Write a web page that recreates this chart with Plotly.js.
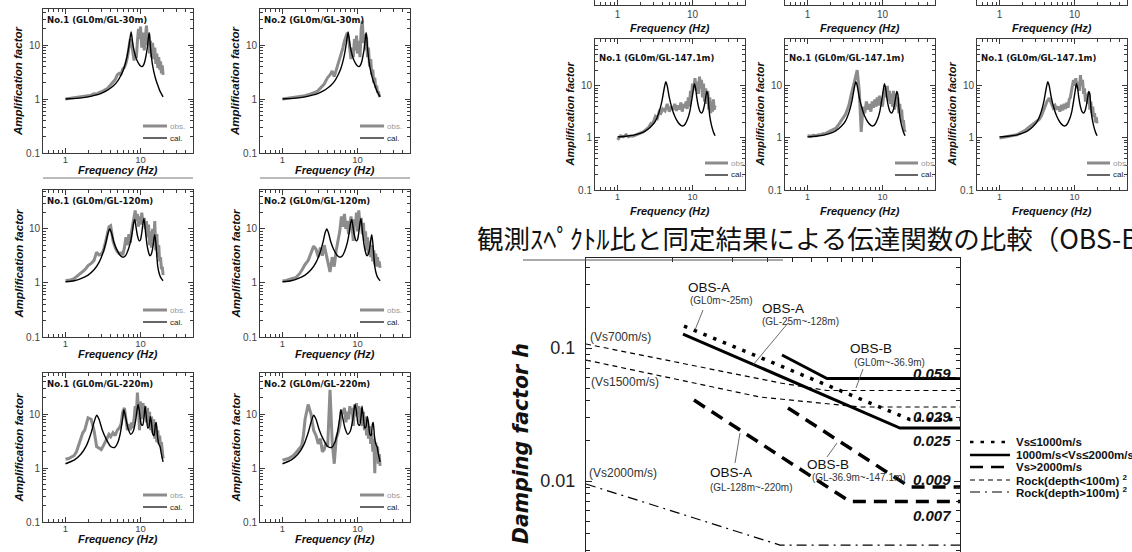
<!DOCTYPE html>
<html><head><meta charset="utf-8">
<script src="https://cdn.plot.ly/plotly-3.0.1.min.js"></script>
<style>html,body{margin:0;padding:0;background:#fff}#chart{width:1132px;height:552px}</style>
</head><body><div id="chart"></div>
<script>
// ---------- DATA ----------
// observed spectral ratios share one frequency grid (Hz)
const fObs = [1,1.1,1.2,1.3,1.4,1.5,1.6,1.7,1.8,1.9,
  2.0,2.2,2.4,2.6,2.8,3.0,3.2,3.4,3.6,3.8,
  4.0,4.3,4.6,4.9,5.2,5.5,5.8,6.1,6.4,6.7,7.0,
  7.3,7.6,7.9,8.2,8.5,8.8,9.1,9.4,9.7,
  10,10.4,10.8,11.2,11.6,12,12.4,12.8,13.2,13.6,
  14,14.5,15,15.5,16,16.5,17,17.5,18,18.5,19,19.5,20];

const obsL1 = [1.0,1.02,1.03,1.05,1.06,1.08,1.07,1.1,1.12,1.13,
  1.15,1.18,1.25,1.24,1.32,1.36,1.42,1.5,1.55,1.7,
  1.85,2.1,2.3,2.8,3.0,2.9,3.6,3.9,4.6,6.0,9.5,
  13,11,6.5,5.2,7.5,5.8,12,20,13,
  22,9,17,8,14,23,10,16,7,12,
  6,11,5.5,9,4.5,7,3.8,6,3.5,5,3,4.2,2.8];
const obsL2 = [1.0,1.02,1.02,1.04,1.05,1.06,1.08,1.1,1.12,1.14,
  1.15,1.2,1.25,1.3,1.35,1.45,1.6,1.75,1.9,2.2,
  2.5,2.8,3.3,2.6,3.4,4.5,5.5,7.5,9,12,15,
  17,13,7,5.5,9,6,13,8,15,
  7,12,6,20,28,11,16,8,14,6,
  9,4,5.5,2.8,3.5,2,2.5,1.6,1.8,1.3,1.4,1.15,1.1];
const obsL3 = [1.1,1.12,1.15,1.2,1.3,1.4,1.5,1.6,1.75,1.9,
  2.1,2.3,2.6,3.7,3.3,3.4,4,5.5,7.5,11,
  11.5,6,4.5,3.8,3.5,3.6,3.3,4.5,7,5,8,
  5.5,9,12,18,22,14,19,11,17,
  12,20,13,16,10,14,7,12,5,9,
  4.5,10,5,14,4,8,3,5,2.5,3,1.8,2,1.4];
const obsL4 = [1.1,1.1,1.15,1.2,1.22,1.25,1.35,1.5,1.7,2.0,
  2.2,2.6,3.5,4.8,4.2,3,4.5,3.2,5,3.5,
  2.5,1.6,3,2,4,6,9,17,11,19,10,
  14,8,12,17,10,6,15,12,20,
  9,22,12,16,8,13,6,9,4,7,
  3.5,6,3,5,2.5,4,2.2,3.5,2,3,2,2.5,1.9];
const obsL5 = [1.45,1.5,1.6,1.7,2.0,2.6,3.6,4.5,5,6.5,
  8.5,8,5,2.5,2.3,2.2,2.6,3,3.6,4.2,
  3.8,4.5,4,5,5.5,6.5,11,13,7,5,6.5,
  5,7,5.5,8,14,10,25,12,5,
  17,8,16,9,14,7,13,6,11,5,
  9,4.5,8,3.5,6,3,5,2.8,4,2.5,3,2,1.5];
const obsL6 = [1.4,1.45,1.5,1.6,1.7,1.9,2.1,2.4,2.6,4,
  8,15,10,5,4,2.8,3.5,2,2.2,3,
  2.5,28,3,1.2,3.5,4.5,6,12,10,13,7,
  11,8,14,10,13,6,15,9,16,
  10,14,7,13,6,11,5,9,4,7,
  3.5,6,2.8,4.5,2,3.5,0.8,3,1.5,2.5,1.2,1.8,1.1];
const obsR1 = [0.92,1.1,1.05,1.15,1.05,1.1,1.08,1.12,1.15,1.2,
  1.25,1.3,1.45,1.6,1.9,2.0,2.6,2.4,3.2,3,
  3.6,3.3,4.5,3.2,4,3.5,4.5,3.3,4.2,3.5,4.8,
  3.2,4.5,3.8,5,3.6,6,4,8,6,
  11,9,14,8,12,7,15,9,13,6,
  11,5,9,4.5,8,3.5,6,3,5,3.2,5.5,3.5,4.2];
const obsR2 = [1.1,1.08,1.12,1.1,1.15,1.15,1.2,1.2,1.25,1.3,
  1.35,1.5,1.55,1.8,2.1,2.5,2.8,3.5,4.5,6.5,
  9,14,20,8,1.3,4,3,5,3.5,4.5,3.2,
  5,3.8,5.5,4,6,4.2,6.5,4.5,5.5,
  4,7,9,6,10,5,8,4.5,7,4,
  8,3.5,7,4,6,3,4.5,2.5,3.5,2,2.2,1.5,1.3];
const obsR3 = [1.0,1.02,1.05,1.06,1.08,1.1,1.12,1.15,1.2,1.25,
  1.3,1.4,1.55,1.7,1.85,2.0,2.1,2.3,2.6,3.2,
  3.8,5,5.8,4.5,3.8,4.2,3.5,4,3.2,4.3,3.4,
  4.5,3.6,4.8,3.8,5.5,6,8,11,13,
  10,14,9,12,8,16,10,13,7,9,
  5,7,4.5,7.5,3.5,5,3,4,2.5,3,2,2.5,1.9];

// calculated transfer functions
const fCal30 = [1,1.5,2,2.5,3,3.5,4,4.5,5,5.5,6,6.5,7,7.25,7.5,7.75,8,8.5,9,9.5,10,10.5,11,11.5,12,12.5,13,13.25,13.5,14,14.5,15,16,17,18,19,20];
const cal30  = [1.0,1.04,1.1,1.18,1.28,1.42,1.6,1.85,2.2,2.8,3.7,5.5,9.5,13.5,17.5,13,9.5,6.5,5.2,4.5,4.1,4.0,4.3,5.2,7,10.5,17,15,10,6,4.2,3.3,2.3,1.8,1.45,1.25,1.1];
const fCal120 = [1,1.3,1.6,2,2.4,2.8,3.2,3.5,3.7,3.9,4.1,4.4,4.8,5.3,5.8,6.3,6.8,7.3,7.8,8.1,8.4,8.7,9.1,9.6,10,10.4,10.8,11.1,11.4,11.8,12.3,12.8,13.3,13.8,14.3,14.8,15.2,15.5,16,16.5,17,18,19,20];
const cal120  = [1.05,1.1,1.2,1.4,1.75,2.4,3.8,6,8.5,10,8.5,5.8,4.2,3.3,3.0,3.2,4,5.5,9,13,15,11,7.5,6,6.3,8.5,13,15.5,12,7.5,4.8,3.7,3.2,3.3,3.9,5.2,7,7.8,5.5,3.2,2,1.4,1.2,1.1];
const fCal220 = [1,1.3,1.6,1.9,2.2,2.4,2.6,2.8,3.1,3.5,4,4.5,5,5.4,5.8,6,6.3,6.8,7.4,8,8.6,9,9.3,9.7,10.2,10.7,11.2,11.5,11.9,12.5,13,13.5,14,14.6,15.2,15.8,16.2,16.8,17.5,18.2,19,20];
const cal220  = [1.2,1.4,1.8,2.6,4.5,7,9.5,8,5,3.4,2.5,2.4,3,4.5,8.5,12,9,5.5,4.2,4.8,7.5,12,15,11,6.5,6.2,9.5,14,9.5,5.5,5.8,9,7,4.2,4,6.5,7,4,2.8,2.5,1.8,1.3];
const fCal147 = [1,1.3,1.6,2,2.4,2.8,3.2,3.6,3.9,4.2,4.4,4.6,4.9,5.3,5.8,6.4,7,7.5,8,8.6,9.2,9.8,10.2,10.6,11,11.4,12,12.6,13.2,13.8,14.4,15,15.5,16,16.5,17,18,19,20];
const cal147  = [1.05,1.08,1.12,1.22,1.38,1.65,2.1,3.2,5,9,12,10,6,3.8,2.6,2,1.75,1.7,1.85,2.3,3.2,5.5,8,11,9,6,4,3.2,3,3.3,4.2,6,7.8,7,4,2.6,1.7,1.3,1.1];

const panelTitles = ['No.1 (GL0m/GL-30m)','No.2 (GL0m/GL-30m)','No.1 (GL0m/GL-120m)','No.2 (GL0m/GL-120m)',
  'No.1 (GL0m/GL-220m)','No.2 (GL0m/GL-220m)','No.1 (GL0m/GL-147.1m)','No.1 (GL0m/GL-147.1m)','No.1 (GL0m/GL-147.1m)'];
const ampTicks = [0.1,1,10];
const ampTickText = ['0.1','1','10'];
const freqTicks = [1,10];
const freqTickText = ['1','10'];

// damping factor vs frequency (Hz)
const dampF_A1 = [1.148,15.49,27.54];  const dampH_A1 = [0.1463,0.029,0.029];   // OBS-A GL0~-25m, Vs<=1000
const dampF_A2 = [1.135,13.80,27.54];  const dampH_A2 = [0.1274,0.025,0.025];   // OBS-A GL-25~-128m
const dampF_B1 = [3.548,5.957,27.54];  const dampH_B1 = [0.0886,0.059,0.059];   // OBS-B GL0~-36.9m
const dampF_A3 = [1.288,7.762,27.54];  const dampH_A3 = [0.0406,0.007,0.007];   // OBS-A GL-128~-220m, Vs>2000
const dampF_B2 = [3.802,15.49,27.54];  const dampH_B2 = [0.0354,0.009,0.009];   // OBS-B GL-36.9~-147.1m
const dampF_R700 = [0.3715,1.380,3.467,5.957,27.54]; const dampH_R700 = [0.1072,0.0720,0.0546,0.0479,0.0479];
const dampF_R1500 = [0.3715,2.754,8.710,27.54];      const dampH_R1500 = [0.0812,0.0428,0.0360,0.0360];
const dampF_R2000 = [0.3715,3.467,27.54];            const dampH_R2000 = [0.0095,0.0033,0.0033];
const dampValueLabels = ['0.059','0.029','0.025','0.009','0.007'];
const legendNames = ['Vs≤1000m/s','1000m/s&lt;Vs≤2000m/s','Vs&gt;2000m/s','Rock(depth&lt;100m) <sup>2</sup>','Rock(depth&gt;100m) <sup>2</sup>'];
const caption = '観測ｽﾍﾟｸﾄﾙ比と同定結果による伝達関数の比較（OBS-B）';

// ---------- LAYOUT ----------
const W = 1132, H = 552;
const FONT = 'Liberation Sans, Arial, Helvetica, sans-serif';
const NARROW = 'Liberation Sans Narrow, Arial Narrow, DejaVu Sans Condensed, sans-serif';
const WIDE = 'DejaVu Sans, Verdana, sans-serif';
const AX = '#3a3a3a';
const OBS_C = '#8c8c8c';

const layout = {width:W, height:H, margin:{l:0,r:0,t:0,b:0}, paper_bgcolor:'#fff',
  plot_bgcolor:'rgba(0,0,0,0)', showlegend:false, font:{family:FONT,color:'#222'},
  annotations:[], shapes:[]};
const data = [];

function txt(x,y,text,o){ layout.annotations.push(Object.assign({xref:'paper',yref:'paper',x:x/W,y:1-y/H,text:text,
  showarrow:false,xanchor:'center',yanchor:'middle',font:{family:FONT,size:10,color:'#222'}},o||{})); }
function seg(x0,y0,x1,y1,line){ layout.shapes.push({type:'line',xref:'paper',yref:'paper',
  x0:x0/W,y0:1-y0/H,x1:x1/W,y1:1-y1/H,line:line}); }

const minorX = [0.6,0.7,0.8,0.9,2,3,4,5,6,7,8,9,20,30,40];
const minorY = [0.2,0.3,0.4,0.5,0.6,0.7,0.8,0.9,2,3,4,5,6,7,8,9,20,30,40,50,60];

function xAxis(x0,x1,anchor,extra){
  return Object.assign({type:'log',range:[-0.3,1.7],domain:[x0/W,x1/W],anchor:anchor,
    tickmode:'array',tickvals:freqTicks,ticktext:freqTickText,ticks:'inside',ticklen:5,tickwidth:1,tickcolor:AX,
    showline:true,linecolor:AX,linewidth:1,mirror:'allticks',showgrid:false,zeroline:false,
    tickfont:{family:FONT,size:9.5,color:'#444'},ticklabelstandoff:-2,
    minor:{tickmode:'array',tickvals:minorX,ticks:'inside',ticklen:3,tickwidth:1,tickcolor:AX,showgrid:false},
    fixedrange:true},extra||{});
}
function yAxis(top,bot,range,anchor,extra){
  return Object.assign({type:'log',range:range,domain:[1-bot/H,1-top/H],anchor:anchor,
    tickmode:'array',tickvals:ampTicks,ticktext:ampTickText,ticks:'inside',ticklen:5,tickwidth:1,tickcolor:AX,
    showline:true,linecolor:AX,linewidth:1,mirror:'allticks',showgrid:false,zeroline:false,
    tickfont:{family:FONT,size:10,color:'#444'},
    minor:{tickmode:'array',tickvals:minorY,ticks:'inside',ticklen:3,tickwidth:1,tickcolor:AX,showgrid:false},
    fixedrange:true},extra||{});
}

// panel boxes [left,right,top,bottom] in pixels, y-range, obs, cal
const panels = [
  {b:[43,193,9,153],   r:[-1,1.67], obs:obsL1, fc:fCal30,  c:cal30,  kind:'L'},
  {b:[260,410,9,153],  r:[-1,1.67], obs:obsL2, fc:fCal30,  c:cal30,  kind:'L'},
  {b:[43,193,190,337], r:[-1,1.72], obs:obsL3, fc:fCal120, c:cal120, kind:'L'},
  {b:[260,410,190,337],r:[-1,1.72], obs:obsL4, fc:fCal120, c:cal120, kind:'L'},
  {b:[43,193,373,522], r:[-1,1.76], obs:obsL5, fc:fCal220, c:cal220, kind:'L'},
  {b:[260,410,373,522],r:[-1,1.76], obs:obsL6, fc:fCal220, c:cal220, kind:'L'},
  {b:[595,745,39,190], r:[-1,1.9],  obs:obsR1, fc:fCal147, c:cal147, kind:'R'},
  {b:[785,935,39,190], r:[-1,1.9],  obs:obsR2, fc:fCal147, c:cal147, kind:'R'},
  {b:[977,1127,39,190],r:[-1,1.9],  obs:obsR3, fc:fCal147, c:cal147, kind:'R'}
];

panels.forEach((p,i)=>{
  const n = i+1, xs = n===1?'':String(n);
  const [l,r,t,bt] = p.b;
  const isR = p.kind==='R';
  layout['xaxis'+xs] = xAxis(l,r,'y'+xs, isR?{tickfont:{family:FONT,size:9,color:'#444'}}:{});
  layout['yaxis'+xs] = yAxis(t,bt,p.r,'x'+xs);
  data.push({x:fObs,y:p.obs,xaxis:'x'+xs,yaxis:'y'+xs,mode:'lines',line:{color:OBS_C,width:3},hoverinfo:'skip'});
  data.push({x:p.fc,y:p.c,xaxis:'x'+xs,yaxis:'y'+xs,mode:'lines',line:{color:'#000',width:1.4,shape:'spline',smoothing:0.6},hoverinfo:'skip'});
  txt(l+2, t+(isR?18:10), '<b>'+panelTitles[i]+'</b>', {xanchor:'left',font:{family:NARROW,size:9.5,color:'#111'}});
  txt(l-25, (t+bt)/2, '<b><i>Amplification factor</i></b>', {textangle:-90,font:{family:FONT,size:isR?11:11.5,color:'#111'}});
  txt((l+r)/2, bt+(isR?21:17), '<b><i>Frequency (Hz)</i></b>', {font:{family:FONT,size:11,color:'#111'}});
  // mini legend
  const s0 = isR? r-40 : r-50, s1 = isR? r-17 : r-26;
  seg(s0, bt-27, s1, bt-27, {color:OBS_C,width:3});
  seg(s0, bt-15, s1, bt-15, {color:'#000',width:1.2});
  txt(s1+1, bt-27, 'obs.', {xanchor:'left',font:{family:FONT,size:8,color:'#999'}});
  txt(s1+1, bt-15, 'cal.', {xanchor:'left',font:{family:FONT,size:8,color:'#222'}});
});

// cut-off top-right row (only bottom edge visible)
const cutBoxes = [[595,745],[785,935],[977,1127]];
cutBoxes.forEach((cb,k)=>{
  const n = 10+k, xs = String(n);
  layout['xaxis'+xs] = xAxis(cb[0],cb[1],'y'+xs,{mirror:false,ticklabelstandoff:0,tickfont:{family:FONT,size:10,color:'#444'}});
  layout['yaxis'+xs] = yAxis(0,5,[-1,-0.92],'x'+xs,{tickvals:[0.1],ticktext:['0.1'],minor:{ticks:''}});
  data.push({x:[1,20],y:[0.05,0.05],xaxis:'x'+xs,yaxis:'y'+xs,mode:'lines',line:{width:0},hoverinfo:'skip'});
  txt((cb[0]+cb[1])/2, 28, '<b><i>Frequency (Hz)</i></b>', {font:{family:FONT,size:11,color:'#111'}});
});

// damping factor chart
layout.xaxis13 = {type:'log',range:[-0.43,1.44],domain:[586/W,960/W],anchor:'y13',side:'top',
  tickmode:'array',tickvals:[1,2,3,4,5,6,7,8,9,10],showticklabels:false,ticks:'inside',ticklen:4,tickcolor:'#222',
  showline:true,linecolor:'#222',linewidth:1,mirror:false,showgrid:false,zeroline:false,fixedrange:true};
layout.yaxis13 = {type:'log',range:[-2.5338,-0.3233],domain:[0,1-258/H],anchor:'x13',
  tickmode:'array',tickvals:[0.01,0.1],ticktext:['0.01','0.1'],ticks:'inside',ticklen:6,tickcolor:'#222',
  showline:true,linecolor:'#222',linewidth:1,mirror:'allticks',showgrid:false,zeroline:false,
  ticklabelstandoff:6,tickfont:{family:FONT,size:18,color:'#222'},
  minor:{tickmode:'array',tickvals:[0.002,0.003,0.004,0.005,0.006,0.007,0.008,0.009,0.02,0.03,0.04,0.05,0.06,0.07,0.08,0.09,0.2,0.3,0.4],
    ticks:'inside',ticklen:4,tickcolor:'#222',showgrid:false},fixedrange:true};

const DOT = {color:'#000',width:3.5,dash:'3.5px,7px'};
const SOLID = {color:'#000',width:3};
const LDASH = {color:'#000',width:3.5,dash:'13px,8px'};
const TDASH = {color:'#000',width:1.2,dash:'5px,4px'};
const DDOT = {color:'#000',width:1.2,dash:'10px,5px,2px,5px'};
[[dampF_A1,dampH_A1,DOT],[dampF_A2,dampH_A2,SOLID],[dampF_B1,dampH_B1,SOLID],
 [dampF_A3,dampH_A3,LDASH],[dampF_B2,dampH_B2,LDASH],
 [dampF_R700,dampH_R700,TDASH],[dampF_R1500,dampH_R1500,TDASH],[dampF_R2000,dampH_R2000,DDOT]]
 .forEach(d=>data.push({x:d[0],y:d[1],xaxis:'x13',yaxis:'y13',mode:'lines',line:d[2],hoverinfo:'skip'}));

txt(521, 444, '<b><i>Damping factor h</i></b>', {textangle:-90,font:{family:WIDE,size:20.5,color:'#111'}});
const small = {family:FONT,size:10,color:'#333'};
txt(588,337,'(Vs700m/s)',{xanchor:'left',font:{family:FONT,size:12,color:'#333'}});
txt(589,382,'(Vs1500m/s)',{xanchor:'left',font:{family:FONT,size:12,color:'#333'}});
txt(587,473,'(Vs2000m/s)',{xanchor:'left',font:{family:FONT,size:12,color:'#333'}});
const big = {family:FONT,size:13.5,color:'#111'};
txt(709,287,'OBS-A',{font:big});        txt(688,300,'(GL0m~-25m)',{xanchor:'left',font:small});
txt(783,308,'OBS-A',{font:big});        txt(760,321,'(GL-25m~-128m)',{xanchor:'left',font:small});
txt(871,348,'OBS-B',{font:big});        txt(852,362,'(GL0m~-36.9m)',{xanchor:'left',font:small});
txt(731,472,'OBS-A',{font:big});        txt(708,487,'(GL-128m~-220m)',{xanchor:'left',font:small});
txt(828,464,'OBS-B',{font:big});        txt(810,477,'(GL-36.9m~-147.1m)',{xanchor:'left',font:small});
const lead = {color:'#444',width:0.8};
seg(703,310,695,330,lead); seg(788,323,753,365,lead); seg(863,369,856,388,lead);
seg(735,463,740,433,lead); seg(827,457,837,443,lead);
const valY = [373,416,440,479,515];
dampValueLabels.forEach((v,k)=>txt(953,valY[k],'<b><i>'+v+'</i></b>',{xanchor:'right',font:{family:FONT,size:15,color:'#111'}}));

// damping legend
const legY = [442,455,467,480,492];
const legStyles = [DOT,SOLID,LDASH,TDASH,DDOT];
legendNames.forEach((nm,k)=>{
  const st = Object.assign({},legStyles[k]);
  if(k<3) st.width = 2.6;
  seg(970,legY[k],1010,legY[k],st);
  txt(1014,legY[k],'<b>'+nm+'</b>',{xanchor:'left',font:{family:FONT,size:11.5,color:'#111'}});
});

// caption and separator lines
txt(475,237,caption,{xanchor:'left',font:{family:'Noto Sans CJK JP, Noto Sans CJK SC, sans-serif',size:26.5,color:'#111'}});
seg(43,178,193,178,{color:'#777',width:1});
seg(260,178,410,178,{color:'#777',width:1});
seg(523,260,783,260,{color:'#555',width:1});

Plotly.newPlot('chart', data, layout, {staticPlot:true, displayModeBar:false});
</script></body></html>
